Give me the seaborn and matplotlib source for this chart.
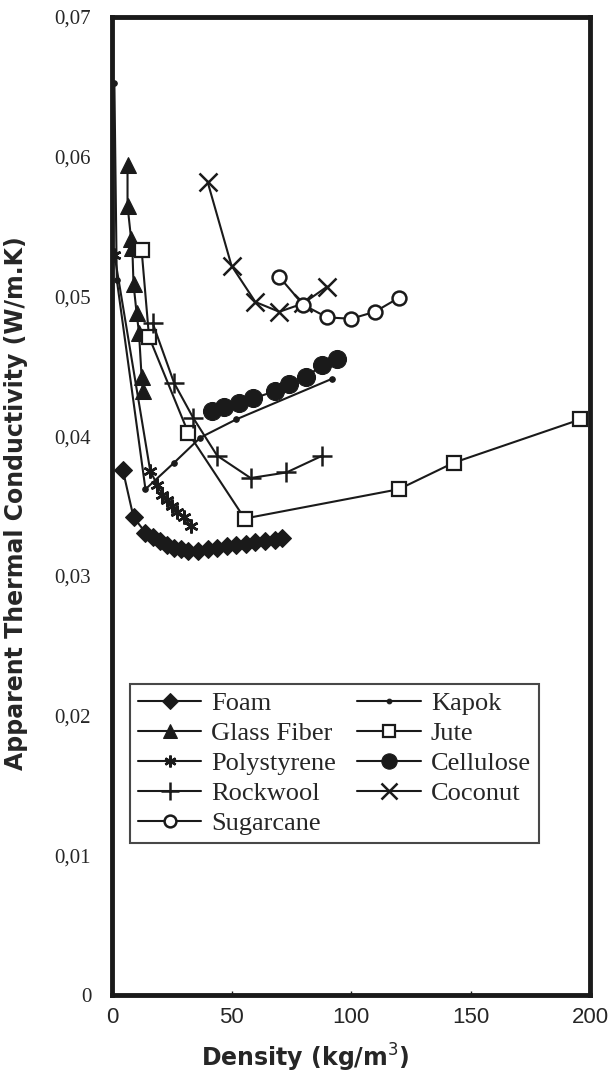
import matplotlib
matplotlib.use("Agg")
import matplotlib.pyplot as plt
import seaborn as sns
import pandas as pd

# ---- data (density kg/m3, apparent thermal conductivity W/m.K) ----
foam_x = [4.5, 9, 14, 17, 20, 23, 26, 29, 32, 36, 40, 44, 48, 52, 56, 60, 64, 68, 71]
foam_y = [0.0376, 0.0342, 0.0331, 0.0328, 0.0325, 0.0322, 0.0320, 0.0319, 0.0318, 0.0318,
          0.0319, 0.0320, 0.0321, 0.0322, 0.0323, 0.0324, 0.0325, 0.0326, 0.0327]

kapok_x = [1, 2, 14, 26, 37, 52, 92]
kapok_y = [0.0653, 0.0512, 0.0362, 0.0381, 0.0399, 0.0412, 0.0441]

glass_x = [6.5, 6.5, 8, 8.5, 9, 10.3, 11.3, 12.4, 13]
glass_y = [0.0594, 0.0565, 0.0541, 0.0535, 0.0509, 0.0488, 0.0474, 0.0442, 0.0432]

jute_x = [12.4, 15.5, 32, 55.5, 120, 143, 196]
jute_y = [0.0533, 0.0471, 0.0402, 0.0341, 0.0362, 0.0381, 0.0412]

poly_x = [1.0, 16, 19, 21, 23, 25, 27, 30, 33]
poly_y = [0.0530, 0.0375, 0.0365, 0.0358, 0.0354, 0.0350, 0.0346, 0.0342, 0.0336]

cell_x = [42, 47, 53, 59, 68, 74, 81, 88, 94]
cell_y = [0.0418, 0.0421, 0.0424, 0.0427, 0.0432, 0.0437, 0.0442, 0.0451, 0.0455]

rock_x = [17, 26, 34, 44, 58, 73, 88]
rock_y = [0.0481, 0.0438, 0.0413, 0.0386, 0.0370, 0.0374, 0.0386]

coco_x = [40, 50, 60, 70, 80, 90]
coco_y = [0.0582, 0.0522, 0.0496, 0.0489, 0.0495, 0.0507]

sugar_x = [70, 80, 90, 100, 110, 120]
sugar_y = [0.0514, 0.0494, 0.0485, 0.0484, 0.0489, 0.0499]

x_ticks = [0, 50, 100, 150, 200]
y_ticks = [0, 0.01, 0.02, 0.03, 0.04, 0.05, 0.06, 0.07]
y_tick_labels = ["0", "0,01", "0,02", "0,03", "0,04", "0,05", "0,06", "0,07"]

sns.set_theme(style="white")
plt.rcParams['font.family'] = ['DejaVu Sans']

fig = plt.figure(figsize=(6.14, 10.83), dpi=100)
ax = fig.add_axes([0.1824, 0.0813, 0.7786, 0.903])

series = [
    ("Foam", foam_x, foam_y, dict(marker="D", markersize=9, mfc="k", mec="k")),
    ("Kapok", kapok_x, kapok_y, dict(marker="o", markersize=4, mfc="k", mec="k")),
    ("Glass Fiber", glass_x, glass_y, dict(marker="^", markersize=12, mfc="k", mec="k")),
    ("Jute", jute_x, jute_y, dict(marker="s", markersize=10, mfc="white", mec="k", mew=1.6)),
    ("Polystyrene", poly_x, poly_y, dict(marker=(6, 2, 0), markersize=10, mfc="k", mec="k", mew=1.8)),
    ("Cellulose", cell_x, cell_y, dict(marker="o", markersize=13, mfc="k", mec="k")),
    ("Rockwool", rock_x, rock_y, dict(marker="+", markersize=15, mfc="k", mec="k", mew=1.8)),
    ("Coconut", coco_x, coco_y, dict(marker="x", markersize=13, mfc="k", mec="k", mew=1.8)),
    ("Sugarcane", sugar_x, sugar_y, dict(marker="o", markersize=10, mfc="white", mec="k", mew=1.8)),
]

for name, xs, ys, st in series:
    df = pd.DataFrame({"x": xs, "y": ys})
    sns.lineplot(data=df, x="x", y="y", ax=ax, sort=False, estimator=None,
                 errorbar=None, color="k", linewidth=1.5, label=name, **st)

h, l = ax.get_legend_handles_labels()
hd = dict(zip(l, h))
order = ["Foam", "Glass Fiber", "Polystyrene", "Rockwool", "Sugarcane",
         "Kapok", "Jute", "Cellulose", "Coconut"]
leg = ax.legend([hd[o] for o in order], order, ncol=2, loc="lower left",
                bbox_to_anchor=(0.038, 0.155),
                frameon=True, fancybox=False,
                prop={"family": "Liberation Serif", "size": 19},
                handlelength=2.4, handletextpad=0.38, columnspacing=0.8,
                labelspacing=0.25, borderpad=0.3, borderaxespad=0,
                markerscale=0.85)
leg.get_frame().set_edgecolor("k")
leg.get_frame().set_linewidth(1.5)

ax.set_xlim(0, 200)
ax.set_ylim(0, 0.07)
ax.set_xticks(x_ticks)
ax.set_xticklabels([str(v) for v in x_ticks], fontfamily="Liberation Sans", fontsize=16)
ax.set_yticks(y_ticks)
ax.set_yticklabels(y_tick_labels, fontfamily="Liberation Serif", fontsize=15)
ax.tick_params(axis="x", direction="in", length=3, width=1, color="k", pad=9, bottom=True)
ax.tick_params(axis="y", direction="in", length=0, pad=15, left=False)
for s in ax.spines.values():
    s.set_linewidth(3.5)
    s.set_color("k")

ax.set_xlabel("Density (kg/m$^{3}$)", fontsize=17, fontweight="bold")
ax.xaxis.set_label_coords(0.404, -0.048)
ax.set_ylabel("Apparent Thermal Conductivity (W/m.K)", fontsize=17, fontweight="bold")
ax.yaxis.set_label_coords(-0.176, 0.503)
ax.grid(False)

fig.savefig("out.png", dpi=100)
